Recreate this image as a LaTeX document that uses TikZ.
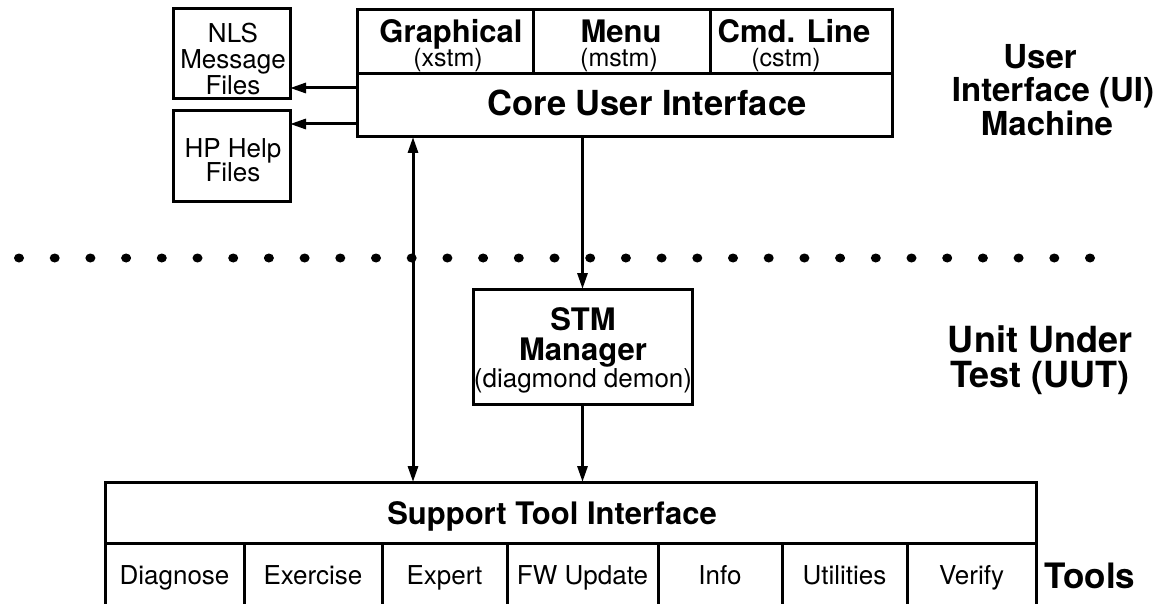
\documentclass[tikz,border=0pt]{standalone}
\usepackage{fontspec}
\setmainfont{TeX Gyre Heros}
\usetikzlibrary{arrows.meta}
\begin{document}
\begin{tikzpicture}[x=1pt,y=-1pt,
  box/.style={draw, line width=3pt, inner sep=0pt, outer sep=0pt, anchor=north west},
  cell/.style={draw, line width=3pt, inner sep=0pt, outer sep=0pt, anchor=center,
    minimum height=70pt, text height=18pt, text depth=6pt,
    font=\fontsize{26}{26}\selectfont},
  bl/.style={inner sep=0pt, anchor=base, font=\fontsize{31}{31}\selectfont\bfseries},
  sl/.style={inner sep=0pt, anchor=base, font=\fontsize{25}{25}\selectfont},
  rl/.style={inner sep=0pt, anchor=base, font=\fontsize{26}{26}\selectfont},
  side/.style={inner sep=0pt, anchor=base, font=\fontsize{33}{33}\selectfont\bfseries},
  arr/.style={line width=3pt, -{Triangle[length=16pt,width=10pt]}},
  darr/.style={line width=3pt, {Triangle[length=16pt,width=10pt]}-{Triangle[length=16pt,width=10pt]}},
  dot/.style={fill=black}
]
\useasboundingbox (0,0) rectangle (1156,604);

% dotted separator
\foreach \i in {0,...,30} {
  \fill[dot] (19+35.7*\i,258) ellipse [x radius=5pt, y radius=4.5pt];
}

% top UI boxes
\node[box, minimum width=176pt, minimum height=64pt] (gr) at (357,10) {};
\node[box, minimum width=177pt, minimum height=64pt] (me) at (533,10) {};
\node[box, minimum width=182pt, minimum height=64pt] (cm) at (710,10) {};
\node[box, minimum width=535pt, minimum height=63pt] (core) at (357,74) {};

\node[bl] (grl) at (451,43) {Graphical};
\node[sl] (grs) at (448,67) {(xstm)};
\node[bl] (mel) at (621,43) {Menu};
\node[sl] (mes) at (619,67) {(mstm)};
\node[bl] (cml) at (794,43) {Cmd. Line};
\node[sl] (cms) at (786,67) {(cstm)};
\node[bl, font=\fontsize{34.5}{34.5}\selectfont\bfseries] (corel) at (647,116) {Core User Interface};

% files boxes
\node[box, minimum width=117pt, minimum height=90pt] (nls) at (173,9) {};
\node[box, minimum width=117pt, minimum height=91pt] (hp) at (173,111) {};
\node[rl] (nls1) at (233,43) {NLS};
\node[rl] (nls2) at (233,69) {Message};
\node[rl] (nls3) at (233,95) {Files};
\node[rl] (hp1) at (233,158) {HP Help};
\node[rl] (hp2) at (233,182) {Files};

% STM manager
\node[box, minimum width=219pt, minimum height=115pt] (stm) at (473,289) {};
\node[bl] (stm1) at (583,330) {STM};
\node[bl] (stm2) at (583,360) {Manager};
\node[rl] (stm3) at (583,387) {(diagmond demon)};

% support tool interface
\node[box, minimum width=931pt, minimum height=61pt] (sti) at (105,482) {};
\node[bl] (stil) at (552,524) {Support Tool Interface};

\node[cell, minimum width=139pt] (t1) at (174.5,578) {Diagnose};
\node[cell, minimum width=138pt] (t2) at (313,578) {Exercise};
\node[cell, minimum width=125pt] (t3) at (444.5,578) {Expert};
\node[cell, minimum width=151pt] (t4) at (582.5,578) {FW Update};
\node[cell, minimum width=124pt] (t5) at (720,578) {Info};
\node[cell, minimum width=125pt] (t6) at (844.5,578) {Utilities};
\node[cell, minimum width=129pt] (t7) at (971.5,578) {Verify};

% side labels
\node[side] (ui1) at (1040,69) {User};
\node[side] (ui2) at (1053,102) {Interface (UI)};
\node[side] (ui3) at (1047,136) {Machine};
\node[side, font=\fontsize{36}{36}\selectfont\bfseries] (uut1) at (1040,352) {Unit Under};
\node[side, font=\fontsize{36}{36}\selectfont\bfseries] (uut2) at (1040,387) {Test (UUT)};
\node[side, font=\fontsize{35}{35}\selectfont\bfseries] (tools) at (1090,588) {Tools};

% connectors
\draw[arr] ([yshift=17.5pt]core.west) -- ([yshift=17.5pt]core.west -| nls.east);
\draw[arr] ([yshift=-18.5pt]core.west) -- ([yshift=-18.5pt]core.west -| hp.east);
\draw[darr] ([xshift=56pt]core.south west) -- ([xshift=56pt]core.south west |- sti.north);
\draw[arr] (stm.north |- core.south) -- (stm.north);
\draw[arr] (stm.south) -- (stm.south |- sti.north);
\end{tikzpicture}
\end{document}
